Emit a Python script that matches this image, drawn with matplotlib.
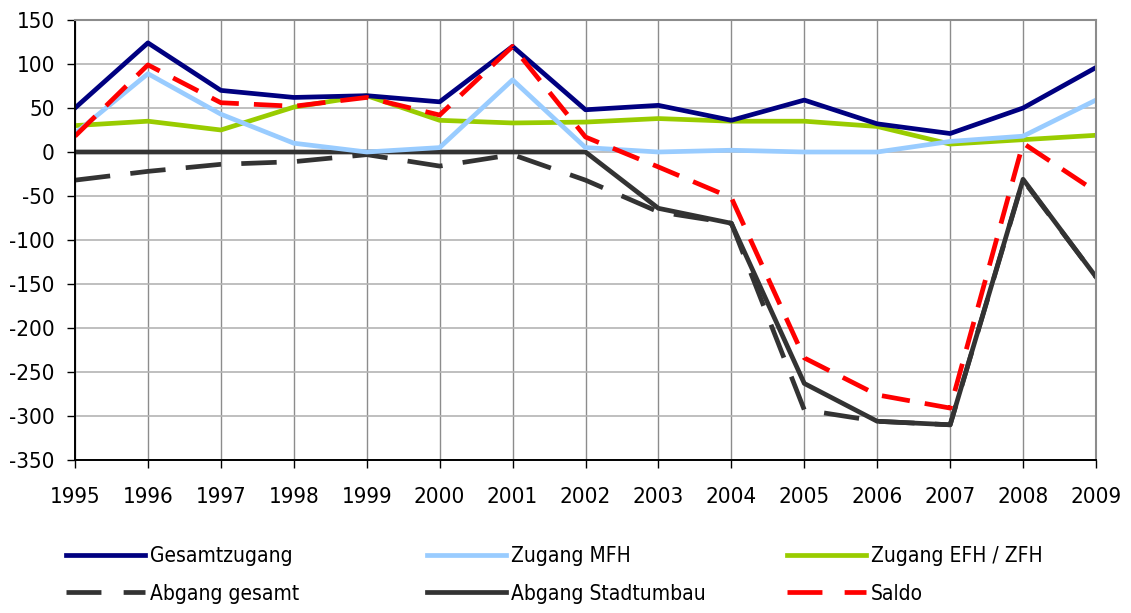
import matplotlib
matplotlib.use("Agg")
import matplotlib.pyplot as plt
from matplotlib.lines import Line2D

plt.rcParams['font.family'] = ['DejaVu Sans']
plt.rcParams['font.stretch'] = 'condensed'
plt.rcParams['axes.unicode_minus'] = False

# data
years = list(range(1995, 2010))
gesamtzugang = [50, 124, 70, 62, 64, 57, 120, 48, 53, 36, 59, 32, 21, 50, 96]
zugang_mfh = [21, 89, 43, 10, 0, 5, 82, 5, 0, 2, 0, 0, 12, 18, 59]
zugang_efh = [30, 35, 25, 51, 64, 36, 33, 34, 38, 35, 35, 29, 9, 14, 19]
abgang_gesamt = [-32, -22, -14, -11, -3, -16, -3, -32, -68, -81, -293, -306, -310, -32, -142]
abgang_stadtumbau = [0, 0, 0, 0, 0, 0, 0, 0, -64, -81, -263, -306, -310, -31, -142]
saldo = [18, 99, 56, 52, 62, 42, 120, 17, -17, -52, -234, -276, -291, 10, -45]

fig = plt.figure(figsize=(11.31, 6.13), dpi=100)
ax = fig.add_axes([75 / 1131, 1 - 460 / 613, 1021 / 1131, 440 / 613])

lw = 3.4
ax.plot(years, abgang_gesamt, color='#333333', lw=lw, dashes=(7.5, 4.3), label='Abgang gesamt')
ax.plot(years, abgang_stadtumbau, color='#333333', lw=lw, label='Abgang Stadtumbau')
ax.plot(years, zugang_efh, color='#99CC00', lw=lw, label='Zugang EFH / ZFH')
ax.plot(years, zugang_mfh, color='#99CCFF', lw=lw, label='Zugang MFH')
ax.plot(years, gesamtzugang, color='#000080', lw=lw, label='Gesamtzugang')
ax.plot(years, saldo, color='#FF0000', lw=lw, dashes=(6, 3.2), label='Saldo')

ax.set_xlim(1995, 2009)
ax.set_ylim(-350, 150)
ax.set_xticks(years)
ax.set_yticks(range(-350, 151, 50))
ax.tick_params(axis='both', labelsize=16, direction='out', length=5.5, width=1, color='black')
ax.tick_params(axis='x', pad=14)
ax.tick_params(axis='y', pad=9)

ax.set_axisbelow(True)
ax.yaxis.grid(True, color='#b4b4b4', lw=1.2)
ax.xaxis.grid(True, color='#8c8c8c', lw=1.0)
for s in ['top', 'right']:
    ax.spines[s].set_color('#8c8c8c')
    ax.spines[s].set_linewidth(1.5)
for s in ['left', 'bottom']:
    ax.spines[s].set_color('black')
    ax.spines[s].set_linewidth(1.4)

# legend: three columns of two entries each
h = {l.get_label(): l for l in ax.get_lines()}
cols = [
    (['Gesamtzugang', 'Abgang gesamt'], 66),
    (['Zugang MFH', 'Abgang Stadtumbau'], 427),
    (['Zugang EFH / ZFH', 'Saldo'], 787),
]
for names, xpos in cols:
    handles = [Line2D([], [], color=h[n].get_color(), lw=lw, linestyle=h[n].get_linestyle(),
                      dashes=(7.4, 4.7) if n in ('Abgang gesamt', 'Saldo') else (None, None))
               for n in names]
    fig.legend(handles, names, loc='upper left', bbox_to_anchor=(xpos / 1131, 1 - 546 / 613),
               frameon=False, fontsize=15, handlelength=3.8, handletextpad=0.24,
               labelspacing=0.85, borderaxespad=0, borderpad=0)

fig.savefig('out.png', dpi=100)
